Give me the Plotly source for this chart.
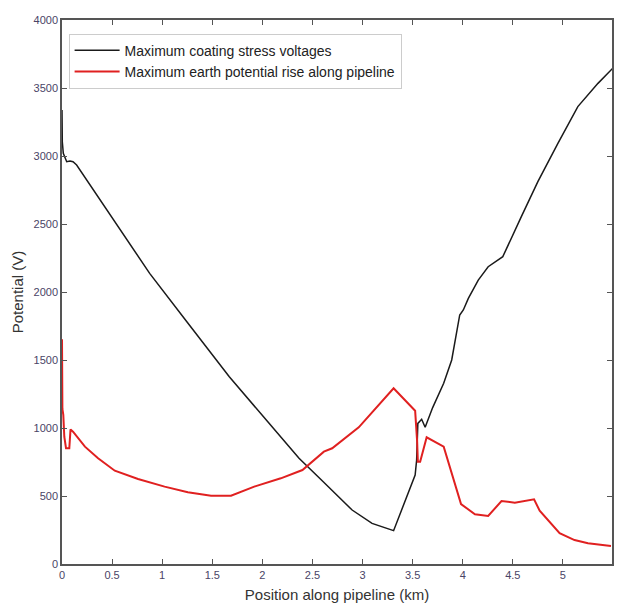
import plotly.graph_objects as go

# Maximum coating stress voltages (black)
coat_x = [0.0, 0.003, 0.013, 0.047, 0.08, 0.11, 0.146, 0.5, 0.875, 1.25, 1.67, 2.05, 2.366, 2.6, 2.896, 3.095, 3.31,
          3.525, 3.54, 3.552, 3.59, 3.625, 3.7, 3.81, 3.89, 3.97, 4.006, 4.056, 4.155, 4.254, 4.40, 4.585, 4.75,
          4.95, 5.149, 5.35, 5.497]
coat_v = [3338, 3105, 3020, 2958, 2963, 2958, 2934, 2547, 2137, 1778, 1377, 1049, 777, 610, 397, 299, 245,
          654, 765, 1034, 1064, 1005, 1150, 1329, 1500, 1831, 1868, 1953, 2088, 2186, 2260, 2554, 2811,
          3093, 3363, 3534, 3645]

# Maximum earth potential rise along pipeline (red)
epr_x = [0.0, 0.002, 0.004, 0.013, 0.023, 0.04, 0.073, 0.085, 0.11, 0.229, 0.36, 0.527, 0.759, 1.024, 1.256,
         1.488, 1.687, 1.919, 2.184, 2.4, 2.48, 2.614, 2.697, 2.962, 3.31, 3.525, 3.545, 3.552, 3.575, 3.64,
         3.81, 3.983, 4.122, 4.254, 4.387, 4.52, 4.712, 4.768, 4.967, 5.116, 5.25, 5.48]
epr_v = [1652, 1181, 1140, 1096, 936, 851, 851, 990, 973, 863, 777, 686, 625, 569, 527,
         502, 502, 569, 630, 691, 740, 826, 851, 1005, 1292, 1127, 900, 752, 752, 932,
         863, 441, 365, 353, 463, 451, 476, 392, 226, 176, 152, 132]

x_ticks = [0, 0.5, 1, 1.5, 2, 2.5, 3, 3.5, 4, 4.5, 5]
x_tick_text = ["0", "0.5", "1", "1.5", "2", "2.5", "3", "3.5", "4", "4.5", "5"]
y_ticks = [0, 500, 1000, 1500, 2000, 2500, 3000, 3500, 4000]

fig = go.Figure()
fig.add_trace(go.Scatter(x=coat_x, y=coat_v, mode="lines", name="Maximum coating stress voltages",
                         line=dict(color="#1a1a1a", width=1.5)))
fig.add_trace(go.Scatter(x=epr_x, y=epr_v, mode="lines", name="Maximum earth potential rise along pipeline",
                         line=dict(color="#e02020", width=2)))

axis_common = dict(showgrid=False, zeroline=False, showline=True, linecolor="#555555", linewidth=1.5,
                   mirror="ticks", ticks="inside", ticklen=5, tickcolor="#555555",
                   tickfont=dict(family="Liberation Sans", size=11, color="#4a4466"))

fig.update_layout(
    width=617, height=607,
    margin=dict(l=62, r=3, t=20, b=43),
    paper_bgcolor="white", plot_bgcolor="white",
    font=dict(family="Liberation Sans", color="#333333"),
    xaxis=dict(range=[0, 5.49], tickvals=x_ticks, ticktext=x_tick_text,
               title=dict(text="Position along pipeline (km)", font=dict(size=15, color="#333333"), standoff=10),
               **axis_common),
    yaxis=dict(range=[0, 4000], tickvals=y_ticks,
               title=dict(text="Potential (V)", font=dict(size=15, color="#333333"), standoff=6),
               **axis_common),
    legend=dict(x=0.012, y=0.975, xanchor="left", yanchor="top",
                bgcolor="white", bordercolor="#cccccc", borderwidth=1,
                font=dict(family="Liberation Sans", size=14, color="#222222"),
                tracegroupgap=0, itemwidth=45),
    showlegend=True,
)

fig.write_html("out.html")
